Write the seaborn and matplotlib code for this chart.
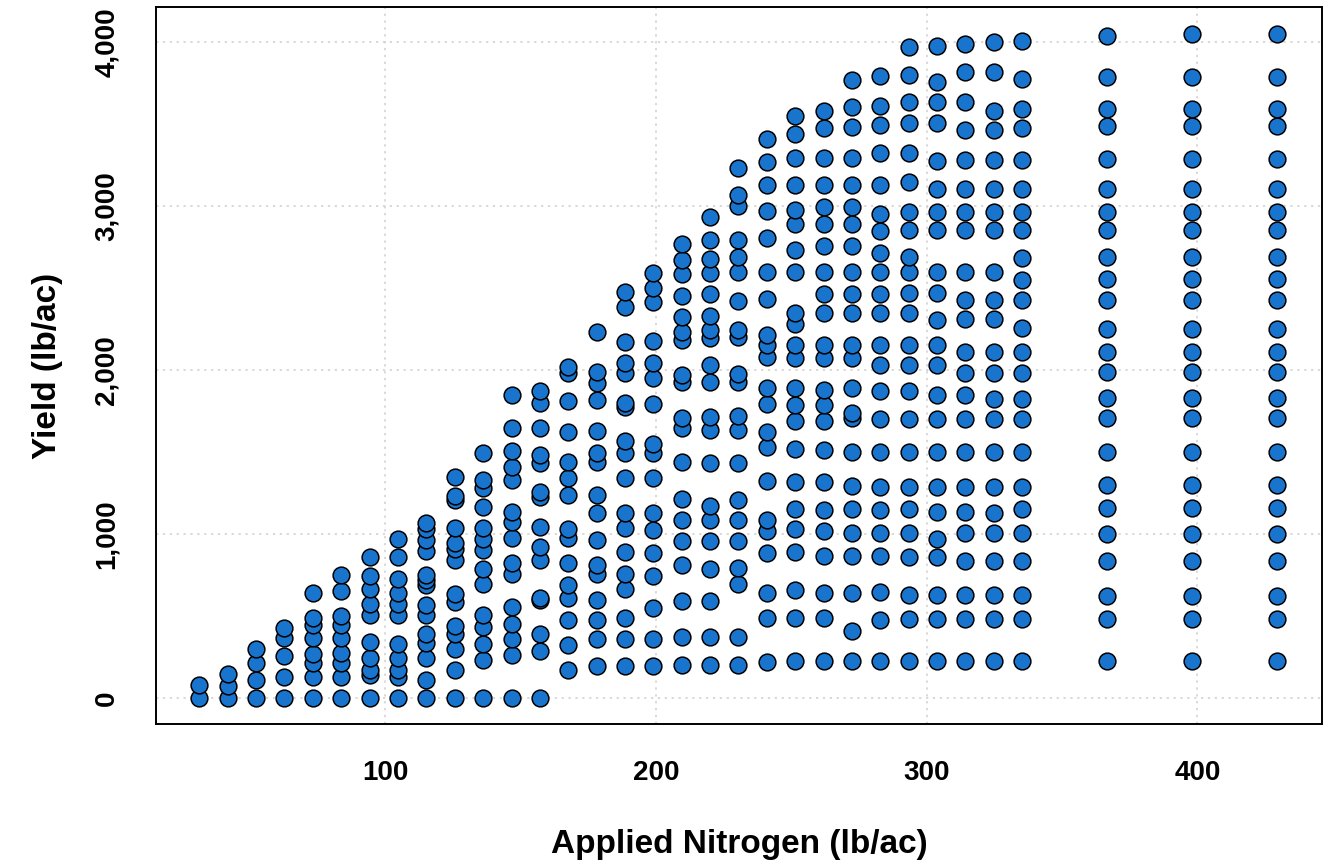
import pandas as pd
import matplotlib.pyplot as plt
import seaborn as sns
from matplotlib.ticker import FuncFormatter

# Azote appliqué (lb/ac) - positions des colonnes
azote = [31.4, 41.9, 52.4, 62.8, 73.3, 83.8, 94.3, 104.8, 115.2, 125.7,
         136.2, 146.7, 157.1, 167.6, 178.1, 188.6, 199.0, 209.5, 220.0, 230.4,
         240.9, 251.4, 261.9, 272.3, 282.8, 293.3, 303.7, 314.2, 324.7, 335.2,
         366.6, 398.1, 429.5]

# Rendements (lb/ac) pour chaque colonne
rendements = [
    [0, 80],
    [0, 72, 145],
    [0, 110, 215, 297],
    [0, 130, 256, 368, 425],
    [0, 130, 215, 272, 368, 445, 486, 644],
    [0, 130, 215, 276, 368, 445, 500, 652, 750],
    [0, 140, 175, 246, 340, 506, 577, 663, 744, 858],
    [0, 130, 171, 246, 329, 506, 577, 642, 724, 862, 970],
    [0, 110, 246, 334, 390, 510, 567, 689, 720, 750, 898, 963, 1029, 1067],
    [0, 175, 303, 394, 439, 587, 638, 845, 912, 943, 1040, 1207, 1232, 1345],
    [0, 236, 329, 435, 506, 699, 790, 902, 973, 1035, 1167, 1279, 1329, 1496],
    [0, 262, 358, 455, 557, 760, 825, 974, 1075, 1136, 1329, 1407, 1508, 1648, 1848],
    [0, 287, 394, 598, 612, 841, 922, 1045, 1227, 1258, 1435, 1482, 1645, 1801, 1874],
    [175, 323, 476, 612, 689, 825, 974, 1029, 1238, 1344, 1441, 1624, 1811, 1980, 2020],
    [195, 358, 476, 598, 760, 811, 963, 1130, 1238, 1441, 1492, 1628, 1817, 1919, 1990, 2234],
    [195, 358, 490, 663, 760, 892, 1035, 1126, 1340, 1492, 1569, 1776, 1801, 1980, 2041,
     2173, 2386, 2477],
    [195, 358, 551, 744, 886, 1024, 1130, 1340, 1492, 1549, 1791, 1949, 2045, 2179, 2417,
     2502, 2590],
    [202, 373, 594, 814, 955, 1089, 1212, 1439, 1645, 1707, 1924, 1969, 2182, 2233, 2320,
     2450, 2584, 2670, 2769],
    [202, 373, 594, 790, 955, 1089, 1171, 1433, 1635, 1713, 1928, 2031, 2192, 2243, 2326,
     2460, 2588, 2676, 2790, 2934],
    [202, 373, 697, 794, 955, 1083, 1206, 1433, 1635, 1718, 1928, 1975, 2202, 2243, 2419,
     2594, 2691, 2794, 3000, 3068, 3230],
    [223, 491, 639, 883, 1017, 1083, 1322, 1528, 1625, 1790, 1893, 2078, 2151, 2213, 2435,
     2594, 2804, 2971, 3125, 3270, 3410],
    [225, 490, 660, 890, 1030, 1150, 1320, 1520, 1690, 1785, 1890, 2070, 2150, 2280, 2350,
     2595, 2730, 2890, 2975, 3125, 3290, 3440, 3550],
    [225, 490, 640, 865, 1020, 1145, 1320, 1510, 1690, 1785, 1880, 2070, 2150, 2345, 2465,
     2595, 2755, 2890, 2990, 3125, 3290, 3475, 3580],
    [225, 410, 640, 865, 1005, 1155, 1295, 1500, 1705, 1735, 1890, 2070, 2150, 2350, 2465,
     2595, 2755, 2890, 2990, 3130, 3290, 3480, 3600, 3765],
    [225, 475, 645, 865, 1005, 1145, 1290, 1500, 1700, 1875, 2030, 2150, 2345, 2465, 2595,
     2710, 2845, 2950, 3130, 3320, 3495, 3610, 3790],
    [225, 485, 630, 860, 1005, 1150, 1290, 1500, 1700, 1870, 2030, 2155, 2345, 2470, 2600,
     2690, 2850, 2960, 3145, 3320, 3505, 3630, 3795, 3970],
    [225, 485, 630, 860, 970, 1135, 1290, 1500, 1700, 1845, 2030, 2155, 2305, 2470, 2600,
     2850, 2960, 3100, 3275, 3505, 3630, 3755, 3975],
    [225, 485, 630, 835, 1005, 1135, 1290, 1500, 1700, 1845, 1980, 2110, 2310, 2425, 2600,
     2850, 2960, 3100, 3280, 3465, 3635, 3815, 3985],
    [225, 485, 630, 835, 1005, 1130, 1290, 1500, 1700, 1825, 1980, 2110, 2310, 2425, 2600,
     2850, 2960, 3100, 3280, 3465, 3580, 3815, 4000],
    [225, 485, 630, 835, 1005, 1150, 1290, 1500, 1700, 1825, 1980, 2110, 2255, 2425, 2550,
     2685, 2850, 2960, 3100, 3280, 3475, 3590, 3770, 4005],
    [225, 480, 620, 835, 1000, 1160, 1300, 1500, 1705, 1830, 1985, 2110, 2250, 2425, 2555,
     2690, 2855, 2960, 3105, 3285, 3485, 3590, 3785, 4035],
    [225, 480, 620, 835, 1000, 1160, 1300, 1500, 1705, 1830, 1985, 2110, 2250, 2425, 2555,
     2690, 2855, 2960, 3105, 3285, 3485, 3590, 3785, 4045],
    [225, 480, 620, 835, 1000, 1160, 1300, 1500, 1705, 1830, 1985, 2110, 2250, 2425, 2555,
     2690, 2855, 2960, 3105, 3285, 3485, 3590, 3785, 4050],
]

ticks_x = [100, 200, 300, 400]
ticks_y = [0, 1000, 2000, 3000, 4000]

# Construire le tableau long pour seaborn
lignes = []
for n, ys in zip(azote, rendements):
    for y in ys:
        lignes.append({"azote": n, "rendement": y})
df = pd.DataFrame(lignes)

sns.set_style("white")
plt.rcParams['font.family'] = ['Liberation Sans', 'DejaVu Sans']
plt.rcParams['font.weight'] = 'bold'
plt.rcParams['text.color'] = 'black'
plt.rcParams['axes.labelcolor'] = 'black'
plt.rcParams['xtick.color'] = 'black'
plt.rcParams['ytick.color'] = 'black'

fig = plt.figure(figsize=(13.3, 8.65), dpi=100)
ax = fig.add_axes([0.1173, 0.163, 0.994 - 0.1173, 0.9916 - 0.163])

ax.grid(True, linestyle=(0, (1.5, 3)), color='#d0d0d0', linewidth=1.1, zorder=0)
ax.set_axisbelow(True)

sns.scatterplot(data=df, x="azote", y="rendement", ax=ax, color='#1874CD',
                edgecolor='black', linewidth=1.1, s=145, zorder=3, legend=False)

ax.set_xlim(15.4, 446)
ax.set_ylim(-157, 4210)
ax.set_xticks(ticks_x)
ax.set_yticks(ticks_y)
ax.yaxis.set_major_formatter(FuncFormatter(lambda v, p: f"{int(v):,}"))

ax.tick_params(axis='both', direction='out', length=13, width=1.4,
               labelsize=20, pad=13, labelcolor='black')
plt.setp(ax.get_yticklabels(), rotation=90, va='center', fontweight='bold')
plt.setp(ax.get_xticklabels(), fontweight='bold')

for s in ax.spines.values():
    s.set_color('black')
    s.set_linewidth(1.4)

ax.set_xlabel("Applied Nitrogen (lb/ac)", fontsize=24, fontweight='bold', labelpad=31)
ax.set_ylabel("Yield (lb/ac)", fontsize=24, fontweight='bold', labelpad=22)

fig.savefig("out.png", dpi=100)
